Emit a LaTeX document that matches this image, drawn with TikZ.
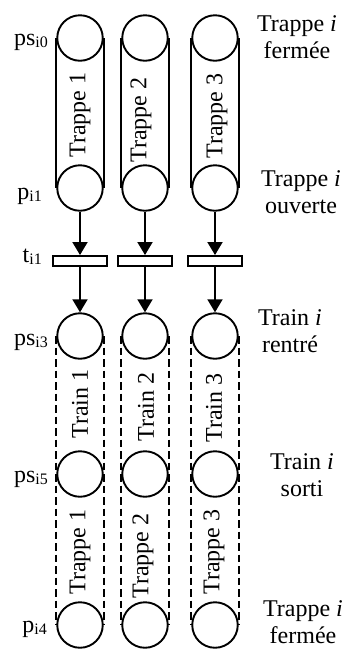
\documentclass[tikz,border=0pt]{standalone}
\usepackage{fontspec}
\setmainfont{Liberation Serif}
\usetikzlibrary{arrows.meta}
\tikzset{>={Triangle[length=13pt,width=15pt]}}
\tikzstyle{place}=[draw,circle,line width=1.9pt,minimum size=45.5pt,inner sep=0pt]
\tikzstyle{trans}=[draw,rectangle,line width=1.9pt,minimum width=54pt,minimum height=10pt,inner sep=0pt]
\tikzstyle{arc}=[->,line width=1.9pt]
\tikzstyle{wall}=[line width=1.7pt]
\tikzstyle{dashwall}=[line width=1.7pt,dash pattern=on 7.5pt off 4pt]
\tikzstyle{lbl}=[font=\fontsize{24}{26.5}\selectfont,inner sep=0pt]
\newcommand{\idx}[1]{\raisebox{-2pt}{\fontsize{16}{16}\selectfont #1}}

\begin{document}
\begin{tikzpicture}[x=1pt,y=-1pt]
  \useasboundingbox (0,0) rectangle (348,649);
  \def\yA{38}  % TRAPPE FERMEE
  \def\yB{188} % TRAPPE OUVERTE
  \def\yT{261} % TRANSITION
  \def\yC{336} % TRAIN RENTRE
  \def\yD{474} % TRAIN SORTI
  \def\yE{625} % TRAPPE FERMEE

  % PLACES AND TRANSITIONS
  \foreach \i/\x in {1/80, 2/145, 3/215}{
    \node[place] (ps0-\i) at (\x,\yA) {};
    \node[place] (p1-\i)  at (\x,\yB) {};
    \node[trans] (t1-\i)  at (\x,\yT) {};
    \node[place] (ps3-\i) at (\x,\yC) {};
    \node[place] (ps5-\i) at (\x,\yD) {};
    \node[place] (p4-\i)  at (\x,\yE) {};
    % TRAPPE
    \draw[wall] (ps0-\i.west) -- (p1-\i.west);
    \draw[wall] (ps0-\i.east) -- (p1-\i.east);
    % ARCS
    \draw[arc] (p1-\i.south) -- (t1-\i.north);
    \draw[arc] (t1-\i.south) -- (ps3-\i.north);
    % TRAIN
    \draw[dashwall] (ps3-\i.west) -- (p4-\i.west);
    \draw[dashwall] (ps3-\i.east) -- (p4-\i.east);
  }

  % ROTATED NAMES
  \foreach \i/\x/\y in {1/80/115, 2/141/120, 3/217/116}{
    \node[lbl,rotate=90] (trA-\i) at (\x,\y) {Trappe \i};
  }
  \foreach \i/\x/\y in {1/80/404, 2/146/407, 3/214/408}{
    \node[lbl,rotate=90] (tn-\i) at (\x,\y) {Train \i};
  }
  \foreach \i/\x/\y in {1/80/552, 2/143/556, 3/214/552}{
    \node[lbl,rotate=90] (trB-\i) at (\x,\y) {Trappe \i};
  }

  % LEFT LABELS
  \node[lbl,anchor=base east] (l-ps0) at (48,45)  {ps\idx{i0}};
  \node[lbl,anchor=base east] (l-p1)  at (42,199) {p\idx{i1}};
  \node[lbl,anchor=base east] (l-t1)  at (42,262) {t\idx{i1}};
  \node[lbl,anchor=base east] (l-ps3) at (48,345) {ps\idx{i3}};
  \node[lbl,anchor=base east] (l-ps5) at (48,482) {ps\idx{i5}};
  \node[lbl,anchor=base east] (l-p4)  at (47,632) {p\idx{i4}};

  % RIGHT LABELS
  \node[lbl,align=center] (r-A) at (297,37)  {Trappe \textit{i}\\fermée};
  \node[lbl,align=center] (r-B) at (301,192) {Trappe \textit{i}\\ouverte};
  \node[lbl,align=center] (r-C) at (290,331) {Train \textit{i}\\rentré};
  \node[lbl,align=center] (r-D) at (302,475) {Train \textit{i}\\sorti};
  \node[lbl,align=center] (r-E) at (303,622) {Trappe \textit{i}\\fermée};
\end{tikzpicture}
\end{document}
